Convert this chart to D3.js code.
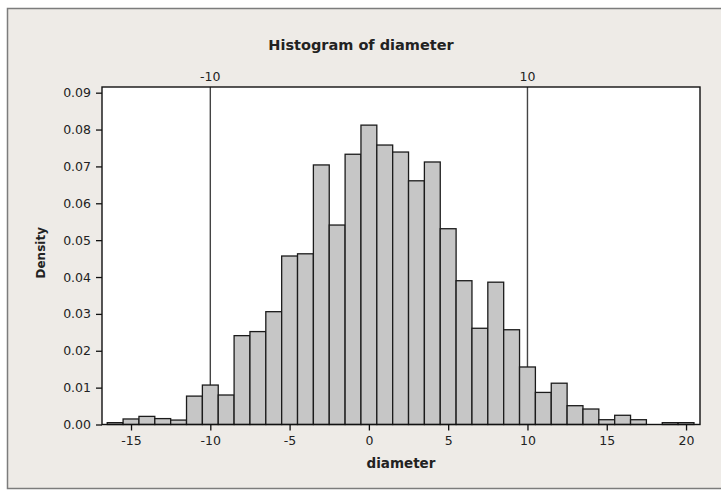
<!DOCTYPE html>
<html>
<head>
<meta charset="utf-8">
<script src="https://cdn.jsdelivr.net/npm/d3@7"></script>
<style>
  html, body { margin: 0; padding: 0; background: #ffffff; }
  svg { display: block; }
  text { font-family: "DejaVu Sans", Verdana, sans-serif; fill: #222; }
</style>
</head>
<body>
<svg id="chart" width="721" height="491"></svg>
<script>
// Histogram of diameter: bins of width 1 centred on the integers -16..20
const binCenters = [-16, -15, -14, -13, -12, -11, -10, -9, -8, -7, -6, -5, -4, -3, -2, -1,
                    0, 1, 2, 3, 4, 5, 6, 7, 8, 9, 10, 11, 12, 13, 14, 15, 16, 17, 18, 19, 20];
const densities = [0.0005, 0.0015, 0.0022, 0.0016, 0.0012, 0.0077, 0.0107, 0.0080,
                   0.0241, 0.0252, 0.0306, 0.0457, 0.0463, 0.0704, 0.0541, 0.0733,
                   0.0812, 0.0758, 0.0739, 0.0661, 0.0712, 0.0531, 0.0390, 0.0261,
                   0.0386, 0.0257, 0.0156, 0.0087, 0.0112, 0.0051, 0.0042, 0.0013,
                   0.0025, 0.0013, 0.0000, 0.0005, 0.0005];
const binWidth = 1;
const xTicks = [-15, -10, -5, 0, 5, 10, 15, 20];
const yTicks = [0, 0.01, 0.02, 0.03, 0.04, 0.05, 0.06, 0.07, 0.08, 0.09];
const refLines = [-10, 10];
const titleText = "Histogram of diameter";
const xLabel = "diameter";
const yLabel = "Density";

const svg = d3.select("#chart");
const W = 721, H = 491;
const plot = { left: 102, right: 700, top: 87, bottom: 424.5 };

// graph region background with its border
svg.append("rect").attr("x", 0).attr("y", 0).attr("width", W).attr("height", H).attr("fill", "#ffffff");
svg.append("rect")
  .attr("x", 7.5).attr("y", 8.5).attr("width", W + 10).attr("height", 480)
  .attr("fill", "#eeebe7").attr("stroke", "#7c7c7c").attr("stroke-width", 1.5);

const x = d3.scaleLinear().domain([-16.83, 20.88]).range([plot.left, plot.right]);
const y = d3.scaleLinear().domain([0, 0.09154]).range([plot.bottom, plot.top]);

// data region
svg.append("rect")
  .attr("x", plot.left).attr("y", plot.top)
  .attr("width", plot.right - plot.left).attr("height", plot.bottom - plot.top)
  .attr("fill", "#ffffff");

// reference lines (behind the bars)
svg.append("g").selectAll("line").data(refLines).join("line")
  .attr("x1", d => x(d)).attr("x2", d => x(d))
  .attr("y1", plot.top).attr("y2", plot.bottom)
  .attr("stroke", "#444").attr("stroke-width", 1.4);

svg.append("g").selectAll("text").data(refLines).join("text")
  .attr("x", d => x(d)).attr("y", 81)
  .attr("text-anchor", "middle").attr("font-size", 12.5)
  .text(d => String(d));

// bars
const bins = binCenters.map((c, i) => ({ c, v: densities[i] })).filter(d => d.v > 0);
svg.append("g").selectAll("rect").data(bins).join("rect")
  .attr("x", d => x(d.c - binWidth / 2))
  .attr("width", d => x(d.c + binWidth / 2) - x(d.c - binWidth / 2))
  .attr("y", d => y(d.v))
  .attr("height", d => y(0) - y(d.v))
  .attr("fill", "#c6c6c6").attr("stroke", "#1b1b1b").attr("stroke-width", 1.3);

// data region frame
svg.append("rect")
  .attr("x", plot.left).attr("y", plot.top)
  .attr("width", plot.right - plot.left).attr("height", plot.bottom - plot.top)
  .attr("fill", "none").attr("stroke", "#111").attr("stroke-width", 1.4);

// axes (plain hyphen for negatives)
const xAxis = svg.append("g")
  .attr("transform", `translate(0,${plot.bottom})`)
  .call(d3.axisBottom(x).tickValues(xTicks).tickSize(6).tickPadding(6).tickFormat(d => String(d)));
const yAxis = svg.append("g")
  .attr("transform", `translate(${plot.left},0)`)
  .call(d3.axisLeft(y).tickValues(yTicks).tickSize(6).tickPadding(5).tickFormat(d3.format(".2f")));

[xAxis, yAxis].forEach(g => {
  g.select(".domain").remove();
  g.selectAll(".tick line").attr("stroke", "#111").attr("stroke-width", 1.3);
  g.selectAll(".tick text").attr("font-size", 12.5)
    .attr("font-family", "'DejaVu Sans', Verdana, sans-serif").attr("fill", "#222");
});

// title and axis labels
svg.append("text")
  .attr("x", (plot.left + plot.right) / 2 - 40).attr("y", 50)
  .attr("text-anchor", "middle").attr("font-size", 14.5).attr("font-weight", "bold")
  .attr("fill", "#111")
  .text(titleText);

svg.append("text")
  .attr("x", (plot.left + plot.right) / 2).attr("y", 468)
  .attr("text-anchor", "middle").attr("font-size", 13.5).attr("font-weight", "bold")
  .attr("fill", "#111")
  .text(xLabel);

svg.append("text")
  .attr("transform", `translate(45,${(plot.top + plot.bottom) / 2 - 3}) rotate(-90)`)
  .attr("text-anchor", "middle").attr("font-size", 12).attr("font-weight", "bold")
  .attr("fill", "#111")
  .text(yLabel);
</script>
</body>
</html>
